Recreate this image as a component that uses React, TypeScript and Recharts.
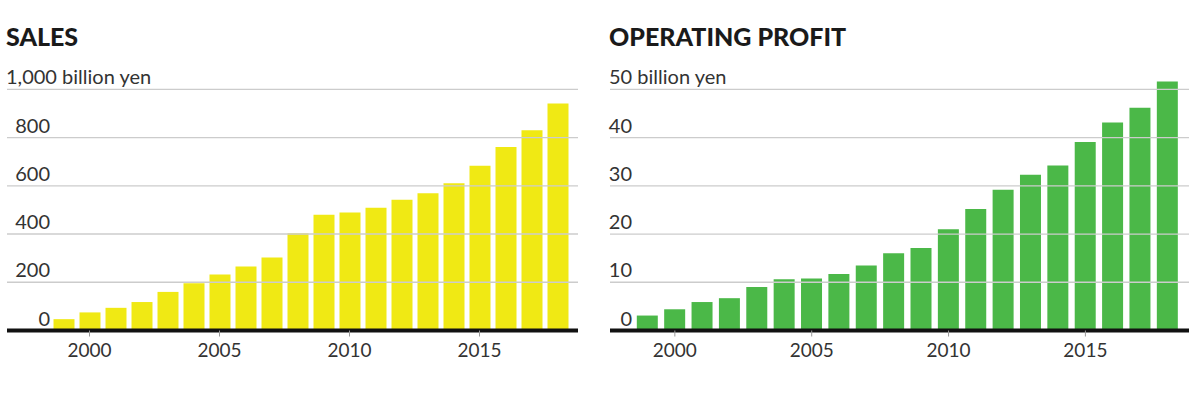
import React from 'react';
import { BarChart, Bar, XAxis, YAxis, ReferenceLine } from 'recharts';

const years = [1999, 2000, 2001, 2002, 2003, 2004, 2005, 2006, 2007, 2008, 2009, 2010, 2011, 2012, 2013, 2014, 2015, 2016, 2017, 2018];
const salesValues = [47, 75, 94, 118, 160, 196, 232, 265, 303, 403, 480, 489, 509, 542, 569, 610, 683, 761, 830, 941];
const profitValues = [3.1, 4.4, 5.9, 6.7, 9.0, 10.6, 10.8, 11.7, 13.5, 16.0, 17.1, 21.0, 25.2, 29.2, 32.3, 34.2, 39.1, 43.1, 46.2, 51.6];

const yearTicks = [2000, 2005, 2010, 2015];
const salesTicks = [0, 200, 400, 600, 800, 1000];
const salesTickLabels = ['0', '200', '400', '600', '800', '1,000 billion yen'];
const profitTicks = [0, 10, 20, 30, 40, 50];
const profitTickLabels = ['0', '10', '20', '30', '40', '50 billion yen'];

const FONT = 'Lato, "Open Sans", sans-serif';

const salesData = years.map((y, i) => ({ year: y, value: salesValues[i] }));
const profitData = years.map((y, i) => ({ year: y, value: profitValues[i] }));

const makeTick = (ticks: number[], labels: string[], topX: number, numX: number) => (props: any) => {
  const { y, payload } = props;
  const idx = ticks.indexOf(payload.value);
  const isTop = idx === ticks.length - 1;
  return (
    <text
      x={isTop ? topX : numX}
      y={y - 5}
      textAnchor={isTop ? 'start' : 'end'}
      fill="#333"
      fontSize={20}
      fontFamily={FONT}
    >
      {labels[idx]}
    </text>
  );
};

interface PanelProps {
  title: string;
  data: { year: number; value: number }[];
  ticks: number[];
  labels: string[];
  domainMax: number;
  color: string;
  left: number;
  plotTop: number;
  plotLeft: number;
  plotRight: number;
  padLeft: number;
  padRight: number;
  topX: number;
  numX: number;
}

const Panel: React.FC<PanelProps> = ({ title, data, ticks, labels, domainMax, color, left, plotTop, plotLeft, plotRight, padLeft, padRight, topX, numX }) => (
  <div style={{ position: 'absolute', left, top: 0, width: 600, height: 394 }}>
    <div
      style={{
        position: 'absolute',
        left: plotLeft - 1,
        top: 19,
        fontFamily: FONT,
        fontWeight: 900,
        fontSize: 25,
        color: '#1a1a1a',
        whiteSpace: 'nowrap',
        lineHeight: '34px',
      }}
    >
      {title}
    </div>
    <BarChart
      width={600}
      height={394}
      data={data}
      margin={{ top: plotTop, left: plotLeft - 1, right: 600 - plotRight, bottom: 23.5 }}
      barSize={21}
    >
      <XAxis
        dataKey="year"
        type="category"
        ticks={yearTicks}
        padding={{ left: padLeft, right: padRight }}
        height={40}
        axisLine={{ stroke: '#111', strokeWidth: 4 }}
        tickLine={{ stroke: '#999' }}
        tickSize={6}
        tickMargin={7}
        tick={{ fill: '#333', fontSize: 19, fontFamily: FONT }}
      />
      <YAxis
        width={1}
        domain={[0, domainMax]}
        ticks={ticks}
        axisLine={false}
        tickLine={false}
        tick={makeTick(ticks, labels, topX, numX)}
      />
      {ticks.slice(1).map((t) => (
        <ReferenceLine key={t} y={t} stroke="#cccccc" strokeWidth={1.3} />
      ))}
      <Bar dataKey="value" fill={color} isAnimationActive={false} />
    </BarChart>
  </div>
);

export default function App() {
  return (
    <div style={{ position: 'absolute', left: 0, top: 0, width: 1200, height: 394, background: '#fff' }}>
      <Panel
        title="SALES"
        data={salesData}
        ticks={salesTicks}
        labels={salesTickLabels}
        domainMax={1000}
        color="#F0E914"
        left={0}
        plotTop={89.3}
        plotLeft={7}
        plotRight={578}
        padLeft={43.5}
        padRight={7.5}
        topX={6}
        numX={50}
      />
      <Panel
        title="OPERATING PROFIT"
        data={profitData}
        ticks={profitTicks}
        labels={profitTickLabels}
        domainMax={55}
        color="#4BB848"
        left={600}
        plotTop={65.2}
        plotLeft={10}
        plotRight={589}
        padLeft={23.8}
        padRight={7.8}
        topX={9}
        numX={32}
      />
    </div>
  );
}
